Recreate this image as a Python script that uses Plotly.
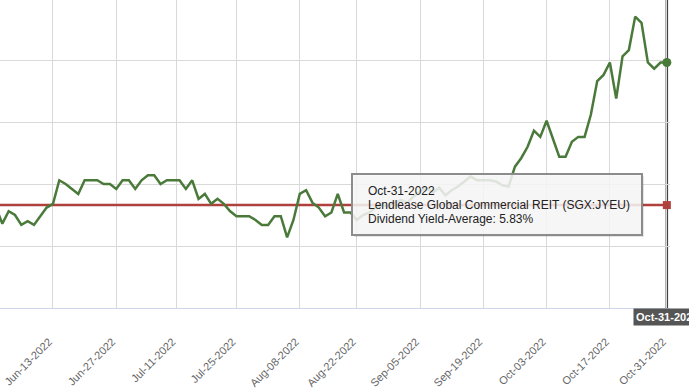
import pandas as pd
import plotly.graph_objects as go

# ---- data ----
start_date = "2022-05-31"
end_date = "2022-10-31"
holidays = ["2022-07-11", "2022-08-09", "2022-10-24"]  # SGX market holidays (no data)

dividend_yield = [
    5.81, 5.68, 5.78, 5.75, 5.67, 5.70, 5.67, 5.74, 5.81, 5.84,
    6.03, 6.00, 5.96, 5.92, 6.03, 6.03, 6.03, 6.00, 6.00, 5.96,
    6.03, 6.03, 5.96, 6.03, 6.07, 6.07, 6.00, 6.03, 6.03, 6.03,
    5.96, 6.03, 5.88, 5.92, 5.84, 5.88, 5.84, 5.78, 5.74, 5.74,
    5.74, 5.71, 5.67, 5.67, 5.74, 5.74, 5.57, 5.71, 5.92, 5.95,
    5.85, 5.81, 5.74, 5.77, 5.92, 5.77, 5.77, 5.71, 5.75, 5.77,
    5.81, 5.83, 5.82, 5.85, 5.87, 5.85, 5.90, 5.94, 5.97, 5.93,
    5.97, 5.91, 5.95, 5.98, 6.02, 6.06, 6.03, 6.03, 6.03, 6.02,
    5.99, 5.98, 6.14, 6.21, 6.30, 6.43, 6.38, 6.51, 6.37, 6.22,
    6.22, 6.34, 6.38, 6.38, 6.56, 6.83, 6.88, 6.98, 6.69, 7.03,
    7.08, 7.35, 7.30, 6.98, 6.93, 6.98, 6.98,
]
average_yield = 5.83

tick_dates = ["2022-06-13", "2022-06-27", "2022-07-11", "2022-07-25", "2022-08-08",
              "2022-08-22", "2022-09-05", "2022-09-19", "2022-10-03", "2022-10-17",
              "2022-10-31"]

series_name = "Lendlease Global Commercial REIT (SGX:JYEU)"
hover_date = "Oct-31-2022"

# ---- build ----
dates = [d for d in pd.bdate_range(start_date, end_date) if d.strftime("%Y-%m-%d") not in holidays]
xs = list(range(len(dates)))
fmt = lambda d: d.strftime("%b-%d-%Y")

tickvals, ticktext = [], []
for t in tick_dates:
    td = pd.Timestamp(t)
    nxt = next(i for i, d in enumerate(dates) if d >= td)
    tickvals.append(nxt if dates[nxt] == td else nxt - 0.5)
    ticktext.append(fmt(td))

GREEN = "#4a7a3a"
RED = "#b0403c"
GRID = "#d9d9d9"
last = len(dates) - 1

fig = go.Figure()
fig.add_trace(go.Scatter(x=xs, y=[average_yield] * len(xs), mode="lines",
                         line=dict(color=RED, width=2.5), hoverinfo="skip"))
fig.add_trace(go.Scatter(x=xs, y=dividend_yield, mode="lines",
                         line=dict(color=GREEN, width=2.5), hoverinfo="skip"))
fig.add_trace(go.Scatter(x=[xs[last]], y=[dividend_yield[last]], mode="markers",
                         marker=dict(color=GREEN, size=9), cliponaxis=False, hoverinfo="skip"))
fig.add_trace(go.Scatter(x=[xs[last]], y=[average_yield], mode="markers",
                         marker=dict(color=RED, size=8, symbol="square"), cliponaxis=False,
                         hoverinfo="skip"))

# crosshair
fig.add_shape(type="line", xref="x", yref="paper", x0=xs[last], x1=xs[last], y0=0, y1=1,
              line=dict(color="#444444", width=2.5), layer="between")
fig.add_annotation(x=xs[last], xref="x", y=0, yref="paper", yanchor="top", xanchor="center",
                   text="<b>" + fmt(dates[last]) + "</b>", showarrow=False,
                   font=dict(family="Arial, Liberation Sans", size=11, color="white"),
                   bgcolor="#555555", borderpad=2)

# tooltip box
W, H = 670.0, 308.0
def px_x(p): return p / W
def px_y(p): return 1 - p / H
fig.add_shape(type="rect", xref="paper", yref="paper", x0=px_x(354), x1=px_x(644),
              y0=px_y(237), y1=px_y(176), line=dict(width=0), fillcolor="rgba(0,0,0,0.10)",
              layer="above")
fig.add_shape(type="rect", xref="paper", yref="paper", x0=px_x(352), x1=px_x(642),
              y0=px_y(235), y1=px_y(174), line=dict(color="#8c8c8c", width=2),
              fillcolor="rgba(248,248,248,0.86)", layer="above")
lines = [hover_date, series_name, "Dividend Yield-Average: %.2f%%" % average_yield]
for k, txt in enumerate(lines):
    fig.add_annotation(x=px_x(366), xref="paper", y=px_y(191 + 14 * k), yref="paper",
                       xanchor="left", yanchor="middle", text=txt, showarrow=False,
                       font=dict(family="Arial, Liberation Sans", size=12, color="#222222"))

fig.update_layout(
    width=689, height=390,
    margin=dict(l=0, r=19, t=0, b=82),
    plot_bgcolor="white", paper_bgcolor="white",
    showlegend=False,
    font=dict(family="Arial, Liberation Sans", size=11, color="#666666"),
)
fig.update_xaxes(range=[0.63, last + 0.5], tickmode="array", tickvals=tickvals, ticktext=ticktext,
                 tickangle=-45, showgrid=True, gridcolor=GRID, gridwidth=1,
                 showline=True, linecolor="#ccd6eb", linewidth=1, zeroline=False,
                 ticks="outside", ticklen=22, tickcolor="rgba(0,0,0,0)",
                 ticklabelshift=-4,
                 tickfont=dict(size=11, color="#666666"))
fig.update_yaxes(range=[5.0, 7.484], tick0=5.0, dtick=0.5, showgrid=True, gridcolor=GRID,
                 gridwidth=1, showticklabels=False, zeroline=False, showline=False)

fig.write_html("out.html", config={"displayModeBar": False},
               post_script="document.body.style.margin='0';")
